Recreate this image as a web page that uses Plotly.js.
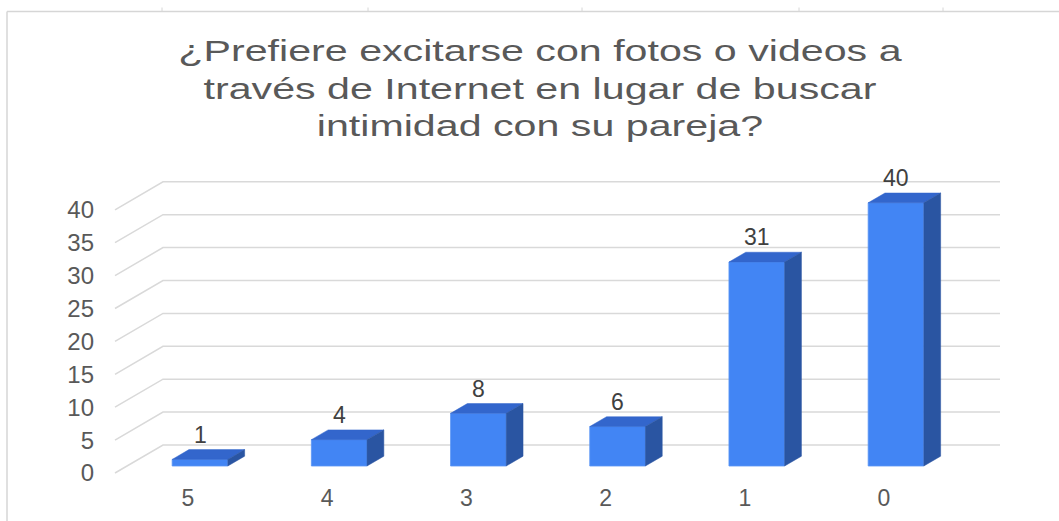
<!DOCTYPE html>
<html>
<head>
<meta charset="utf-8">
<script src="https://cdn.plot.ly/plotly-3.0.1.min.js"></script>
<style>
  html, body { margin: 0; padding: 0; background: #ffffff; }
  #chart { width: 1059px; height: 521px; }
</style>
</head>
<body>
<div id="chart"></div>
<script>
// ---- data ----
const categories = ['5', '4', '3', '2', '1', '0'];
const values = [1, 4, 8, 6, 31, 40];
const yTickValues = [0, 5, 10, 15, 20, 25, 30, 35, 40];
const titleText = '¿Prefiere excitarse con fotos o videos a<br>través de Internet en lugar de buscar<br>intimidad con su pareja?';

// ---- geometry (pixels -> data units) ----
const W = 1059, H = 521;
const plotL = 100, plotR = 1010, plotT = 160, plotB = 482;
const pxPerX = 139.2, x0Px = 188;     // pixel of category index 0 on the floor front edge
const pxPerY = 6.58, y0Px = 473;      // pixel of value 0 on the floor front edge
const xRange = [(plotL - x0Px) / pxPerX, (plotR - x0Px) / pxPerX];
const yRange = [(y0Px - plotB) / pxPerY, (y0Px - plotT) / pxPerY];
const DX = 48 / pxPerX;               // full depth offset, x units
const DY = 28 / pxPerY;               // full depth offset, y units
const fFront = 0.25, fBack = 0.60, barW = 0.40;
const wallFrontX = (115 - x0Px) / pxPerX;
const wallBackX = wallFrontX + DX;
const wallRightX = (1000 - x0Px) / pxPerX;

const idx = categories.map((c, i) => i);
const baseY = fFront * DY;
const dxb = (fBack - fFront) * DX;
const dyb = (fBack - fFront) * DY;
const frontCenter = idx.map(i => i + fFront * DX);

// top faces and side faces of bars
const topX = [], topY = [], sideX = [], sideY = [];
idx.forEach(i => {
  const v = values[i];
  const xl = frontCenter[i] - barW / 2, xr = frontCenter[i] + barW / 2;
  topX.push(xl, xr, xr + dxb, xl + dxb, xl, null);
  topY.push(v + baseY, v + baseY, v + baseY + dyb, v + baseY + dyb, v + baseY, null);
  sideX.push(xr, xr + dxb, xr + dxb, xr, xr, null);
  sideY.push(baseY, baseY + dyb, v + baseY + dyb, v + baseY, baseY, null);
});

const traces = [
  { type: 'bar', x: frontCenter, y: values, base: idx.map(() => baseY), width: barW,
    marker: { color: '#4285f4', line: { color: '#5b95f5', width: 0.8 } },
    hoverinfo: 'skip', showlegend: false },
  { type: 'scatter', mode: 'lines', x: topX, y: topY, fill: 'toself', fillcolor: '#3366cc',
    line: { color: '#3366cc', width: 0.5 }, hoverinfo: 'skip', showlegend: false },
  { type: 'scatter', mode: 'lines', x: sideX, y: sideY, fill: 'toself', fillcolor: '#2a55a2',
    line: { color: '#2a55a2', width: 0.5 }, hoverinfo: 'skip', showlegend: false }
];

const labelFont = { family: 'Liberation Sans, Arial, sans-serif', size: 23, color: '#404040' };
const annotations = idx.map(i => ({
  x: frontCenter[i], y: values[i] + baseY + dyb, xref: 'x', yref: 'y',
  text: String(values[i]), showarrow: false, yanchor: 'bottom', yshift: 0,
  font: labelFont
}));

// back-wall gridlines + side-wall diagonals, drawn below the bars
const gridColor = '#d9d9d9';
const shapes = yTickValues.map(v => ({
  type: 'path', xref: 'x', yref: 'y', layer: 'below',
  path: `M ${wallFrontX},${v} L ${wallBackX},${v + DY} L ${wallRightX},${v + DY}`,
  line: { color: gridColor, width: 1.5 }
}));

// frame decoration (pixel positions converted to paper coordinates)
const paperX = px => (px - plotL) / (plotR - plotL);
const paperY = py => (plotB - py) / (plotB - plotT);
const frameColor = '#d6d6d6';
shapes.push(
  { type: 'line', xref: 'paper', yref: 'paper', x0: paperX(7), x1: paperX(W), y0: paperY(11.5), y1: paperY(11.5),
    line: { color: frameColor, width: 1.5 } },
  { type: 'line', xref: 'paper', yref: 'paper', x0: paperX(7), x1: paperX(7), y0: paperY(11.5), y1: paperY(H),
    line: { color: frameColor, width: 1.5 } }
);
[162, 368, 582, 799, 943].forEach(px => shapes.push({
  type: 'line', xref: 'paper', yref: 'paper', x0: paperX(px), x1: paperX(px), y0: paperY(7.5), y1: paperY(11.5),
  line: { color: frameColor, width: 1 } }));

const layout = {
  width: W, height: H,
  margin: { l: plotL, r: W - plotR, t: plotT, b: H - plotB, pad: 0 },
  paper_bgcolor: '#ffffff', plot_bgcolor: 'rgba(0,0,0,0)',
  font: { family: 'Liberation Sans, Arial, sans-serif', color: '#595959' },
  title: {
    text: titleText, xref: 'container', yref: 'container', x: 540 / W, y: 1 - 61 / H,
    xanchor: 'center', yanchor: 'middle',
    font: { family: 'Liberation Sans, Arial, sans-serif', size: 29, color: '#595959' }
  },
  xaxis: {
    type: 'linear', range: xRange, tickvals: idx, ticktext: categories,
    showgrid: false, zeroline: false, showline: false, ticks: '',
    tickfont: { size: 23, color: '#595959' }, fixedrange: true
  },
  yaxis: {
    type: 'linear', range: yRange, tickvals: yTickValues, ticktext: yTickValues.map(String),
    showgrid: false, zeroline: false, showline: false, ticks: '', ticklabelstandoff: 5,
    tickfont: { size: 24, color: '#595959' }, fixedrange: true
  },
  bargap: 0, annotations: annotations, shapes: shapes, showlegend: false
};

Plotly.newPlot('chart', traces, layout, { displayModeBar: false, staticPlot: true }).then(gd => {
  const t = gd.querySelector('.gtitle');
  if (t) {
    t.style.transformBox = 'fill-box';
    t.style.transformOrigin = 'center';
    t.style.transform = 'scaleX(1.42)';
  }
});
</script>
</body>
</html>
